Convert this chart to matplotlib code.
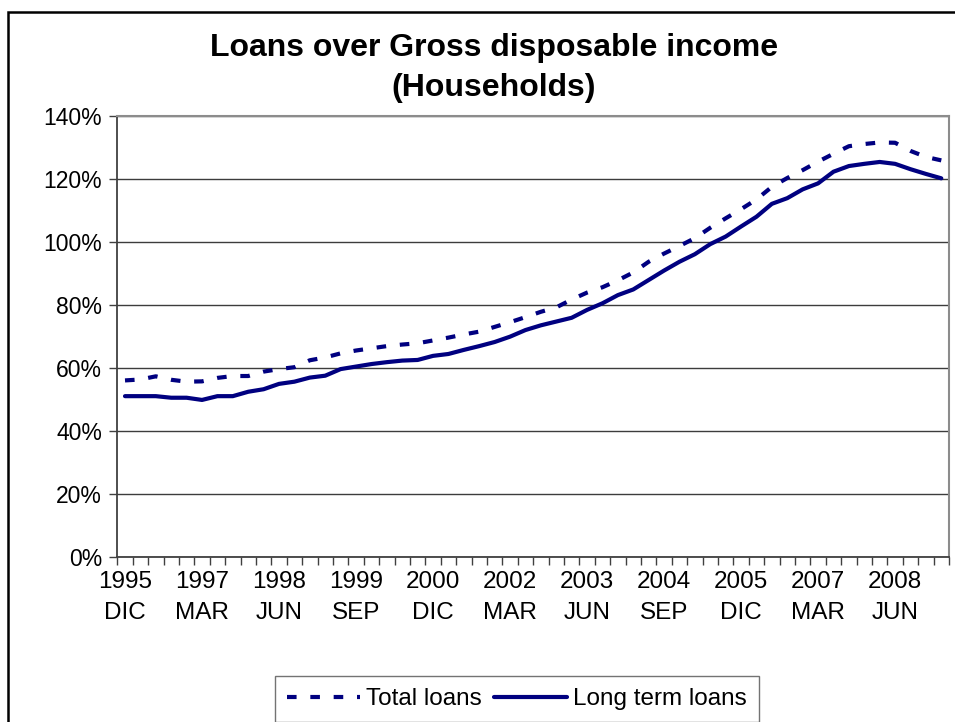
import matplotlib
matplotlib.use("Agg")
import matplotlib.pyplot as plt
from matplotlib.ticker import FixedLocator, PercentFormatter, NullFormatter
from matplotlib.patches import Rectangle

plt.rcParams['font.family'] = ['Liberation Sans', 'DejaVu Sans']

# Quarterly periods, Dec 1995 to Mar 2009
years = list(range(1995, 2010))
months = ["MAR", "JUN", "SEP", "DIC"]
quarters = [f"{y}\n{m}" for y in years for m in months][3:-3]

# Loans as % of gross disposable income (households)
total_loans = [56.0, 56.3, 57.3, 56.2, 55.6, 55.7, 56.8, 57.4, 57.4, 58.8,
               59.6, 60.2, 62.4, 63.3, 64.6, 65.5, 66.2, 66.9, 67.4, 67.8,
               68.7, 69.6, 70.6, 71.5, 73.0, 74.5, 76.1, 77.8, 79.2, 81.7,
               83.9, 85.6, 87.8, 90.3, 93.7, 96.3, 98.7, 101.2, 104.5, 107.5,
               110.4, 113.5, 117.5, 120.3, 122.8, 125.5, 128.0, 130.4, 131.1, 131.6,
               131.5, 128.9, 127.0, 125.9]
long_term_loans = [51.0, 51.0, 51.0, 50.5, 50.5, 49.8, 51.0, 51.0, 52.4, 53.2,
                   54.9, 55.6, 56.9, 57.5, 59.6, 60.4, 61.2, 61.8, 62.3, 62.5,
                   63.8, 64.4, 65.7, 66.9, 68.2, 69.9, 72.0, 73.5, 74.7, 75.9,
                   78.4, 80.5, 83.1, 84.9, 87.9, 90.9, 93.7, 96.1, 99.3, 101.7,
                   104.9, 108.0, 112.1, 113.9, 116.7, 118.6, 122.3, 124.1, 124.8, 125.4,
                   124.8, 123.1, 121.6, 120.2]
y_ticks = [0, 20, 40, 60, 80, 100, 120, 140]
label_every = 5

W, H = 955, 722
fig = plt.figure(figsize=(W / 100, H / 100), dpi=100)
fig.patch.set_facecolor("white")

# outer frame (open to the right and bottom)
fig.patches.append(Rectangle((8 / W, -0.2), 1.5, 1 - 12 / H + 0.2,
                             transform=fig.transFigure, fill=False,
                             edgecolor="black", lw=1.8, zorder=0))

left, right, top, bottom = 117.3, 949, 116, 556.7
ax = fig.add_axes([left / W, 1 - bottom / H, (right - left) / W, (bottom - top) / H])

x = list(range(len(quarters)))
navy = "#000080"
ax.plot(x, total_loans, color=navy, lw=3.0, linestyle=(0, (2.3, 3.3)),
        dash_capstyle="butt", label="Total loans", zorder=3)
ax.plot(x, long_term_loans, color=navy, lw=3.0, solid_capstyle="round",
        solid_joinstyle="round", label="Long term loans", zorder=3)

ax.set_xlim(-0.5, len(quarters) - 0.5)
ax.set_ylim(0, 140)

ax.yaxis.set_major_locator(FixedLocator(y_ticks))
ax.yaxis.set_major_formatter(PercentFormatter(100, decimals=0))
ax.yaxis.grid(True, color="#3c3c3c", lw=1.0)
ax.set_axisbelow(True)
ax.tick_params(axis="y", direction="out", length=6, width=1.0, color="#404040",
               pad=5, labelsize=16.5)

label_pos = [i for i in x if i % label_every == 0]
ax.xaxis.set_major_locator(FixedLocator(label_pos))
ax.set_xticklabels([quarters[i] for i in label_pos], linespacing=1.5)
ax.xaxis.set_minor_locator(FixedLocator([i - 0.5 for i in range(len(quarters) + 1)]))
ax.xaxis.set_minor_formatter(NullFormatter())
ax.tick_params(axis="x", which="major", length=0, pad=10.5, labelsize=17.5)
ax.tick_params(axis="x", which="minor", direction="out", length=6, width=1.0,
               color="#404040")

for s in ("left", "bottom"):
    ax.spines[s].set_color("#404040")
    ax.spines[s].set_linewidth(1.3)
for s in ("top", "right"):
    ax.spines[s].set_color("#8c8c8c")
    ax.spines[s].set_linewidth(1.5)

fig.text(494 / W, 1 - 68 / H, "Loans over Gross disposable income\n(Households)",
         ha="center", va="center", fontsize=23, fontweight="bold", linespacing=1.4)

leg = fig.legend(loc="center", bbox_to_anchor=(517 / W, 1 - 699 / H), ncol=2,
                 fontsize=17.5, frameon=True, fancybox=False, handlelength=3.0,
                 handletextpad=0.25, columnspacing=0.5, borderpad=0.5,
                 borderaxespad=0)
leg.get_frame().set_edgecolor("#505050")
leg.get_frame().set_linewidth(1.0)

fig.savefig("out.png", dpi=100)
